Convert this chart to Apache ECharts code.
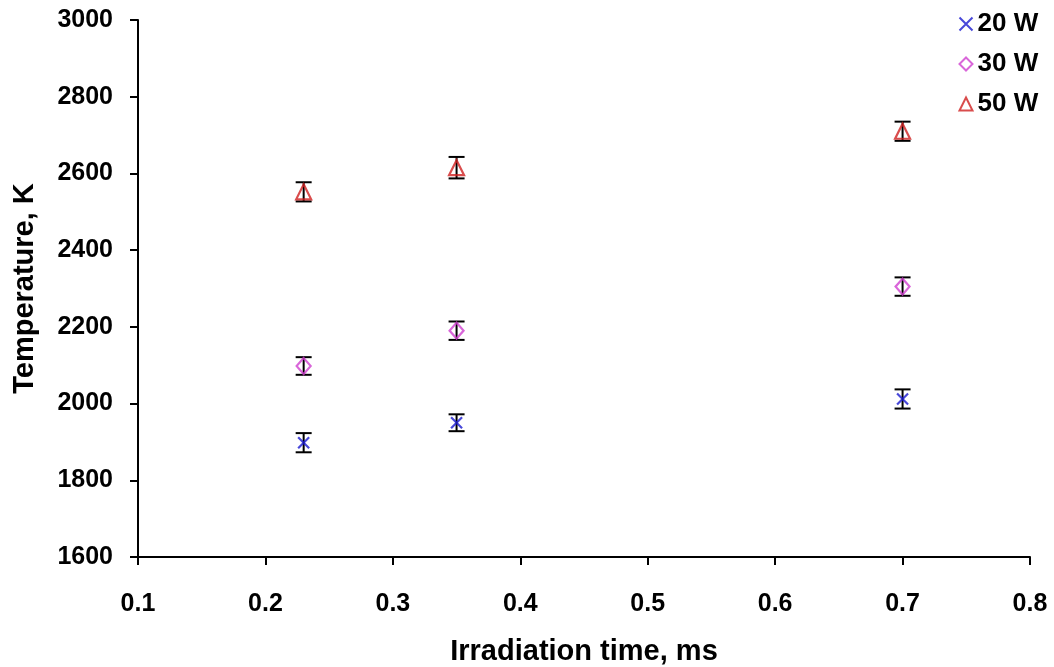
<!DOCTYPE html>
<html>
<head>
<meta charset="utf-8">
<script src="https://cdn.jsdelivr.net/npm/echarts@6/dist/echarts.min.js"></script>
<style>
  html, body { margin: 0; padding: 0; background: #fff; }
  #chart { width: 1054px; height: 667px; }
</style>
</head>
<body>
<div id="chart"></div>
<script>
// ---- data ----
const times = [0.23, 0.35, 0.7];
const temp20W = [1898, 1950, 2012];
const temp30W = [2098, 2190, 2305];
const temp50W = [2552, 2615, 2710];
const err20W = [25, 22, 25];
const err30W = [23, 24, 24];
const err50W = [25, 28, 25];
const seriesNames = ['20 W', '30 W', '50 W'];
const xTicks = [0.1, 0.2, 0.3, 0.4, 0.5, 0.6, 0.7, 0.8];
const yTicks = [1600, 1800, 2000, 2200, 2400, 2600, 2800, 3000];

const FONT = '"Liberation Sans", Arial, sans-serif';

function pts(vals) { return times.map((t, i) => [t, vals[i]]); }
function errPts(vals, errs) { return times.map((t, i) => [t, vals[i], errs[i]]); }

function renderErr(params, api) {
  const x = api.value(0), y = api.value(1), e = api.value(2);
  const top = api.coord([x, y + e]);
  const bot = api.coord([x, y - e]);
  const hw = 8;
  const style = { stroke: '#000', lineWidth: 2 };
  return {
    type: 'group',
    children: [
      { type: 'line', shape: { x1: top[0], y1: top[1], x2: bot[0], y2: bot[1] }, style },
      { type: 'line', shape: { x1: top[0] - hw, y1: top[1], x2: top[0] + hw, y2: top[1] }, style },
      { type: 'line', shape: { x1: bot[0] - hw, y1: bot[1], x2: bot[0] + hw, y2: bot[1] }, style }
    ]
  };
}

const crossPath = 'path://M0,0L10,10M10,0L0,10';

const chart = echarts.init(document.getElementById('chart'));
chart.setOption({
  animation: false,
  backgroundColor: '#fff',
  grid: { left: 138, right: 24, top: 20, bottom: 110, containLabel: false, outerBoundsMode: 'none' },
  legend: {
    orient: 'vertical',
    left: 952,
    top: 5,
    itemWidth: 13,
    itemHeight: 13,
    itemGap: 12,
    itemTextGap: 13,
    data: seriesNames,
    textStyle: { fontFamily: FONT, fontWeight: 'bold', fontSize: 26, color: '#000', lineHeight: 28 }
  },
  xAxis: {
    type: 'value',
    min: 0.1, max: 0.8, interval: 0.1,
    name: 'Irradiation time, ms',
    nameLocation: 'middle',
    nameGap: 80,
    nameTextStyle: { fontFamily: FONT, fontWeight: 'bold', fontSize: 29, color: '#000' },
    axisLine: { lineStyle: { color: '#000', width: 2 } },
    axisTick: { show: true, inside: false, length: 8, lineStyle: { color: '#000', width: 2 } },
    axisLabel: {
      fontFamily: FONT, fontWeight: 'bold', fontSize: 25, color: '#000', margin: 35,
      formatter: v => xTicks.find(t => Math.abs(t - v) < 1e-9).toFixed(1)
    },
    splitLine: { show: false }
  },
  yAxis: {
    type: 'value',
    min: 1600, max: 3000, interval: 200,
    name: 'Temperature, K',
    nameLocation: 'middle',
    nameGap: 99,
    nameRotate: 90,
    nameTextStyle: { fontFamily: FONT, fontWeight: 'bold', fontSize: 29, color: '#000' },
    axisLine: { show: true, lineStyle: { color: '#000', width: 2 } },
    axisTick: { show: true, inside: false, length: 8, lineStyle: { color: '#000', width: 2 } },
    axisLabel: {
      fontFamily: FONT, fontWeight: 'bold', fontSize: 25, color: '#000', margin: 25,
      formatter: v => String(yTicks.find(t => t === v))
    },
    splitLine: { show: false }
  },
  series: [
    { type: 'custom', name: 'err20', renderItem: renderErr, data: errPts(temp20W, err20W), encode: { x: 0, y: 1 }, z: 2 },
    { type: 'custom', name: 'err30', renderItem: renderErr, data: errPts(temp30W, err30W), encode: { x: 0, y: 1 }, z: 2 },
    { type: 'custom', name: 'err50', renderItem: renderErr, data: errPts(temp50W, err50W), encode: { x: 0, y: 1 }, z: 2 },
    {
      type: 'scatter', name: seriesNames[0], data: pts(temp20W), symbol: crossPath, symbolSize: 11, z: 3,
      itemStyle: { color: 'none', borderColor: '#1a1ad0', borderWidth: 2.2 }
    },
    {
      type: 'scatter', name: seriesNames[1], data: pts(temp30W), symbol: 'diamond', symbolSize: [14, 16], z: 3,
      itemStyle: { color: 'none', borderColor: '#d040d0', borderWidth: 2.2 }
    },
    {
      type: 'scatter', name: seriesNames[2], data: pts(temp50W), symbol: 'triangle', symbolSize: [15, 15], z: 3,
      itemStyle: { color: 'none', borderColor: '#d02020', borderWidth: 2.2 }
    }
  ]
});
</script>
</body>
</html>
